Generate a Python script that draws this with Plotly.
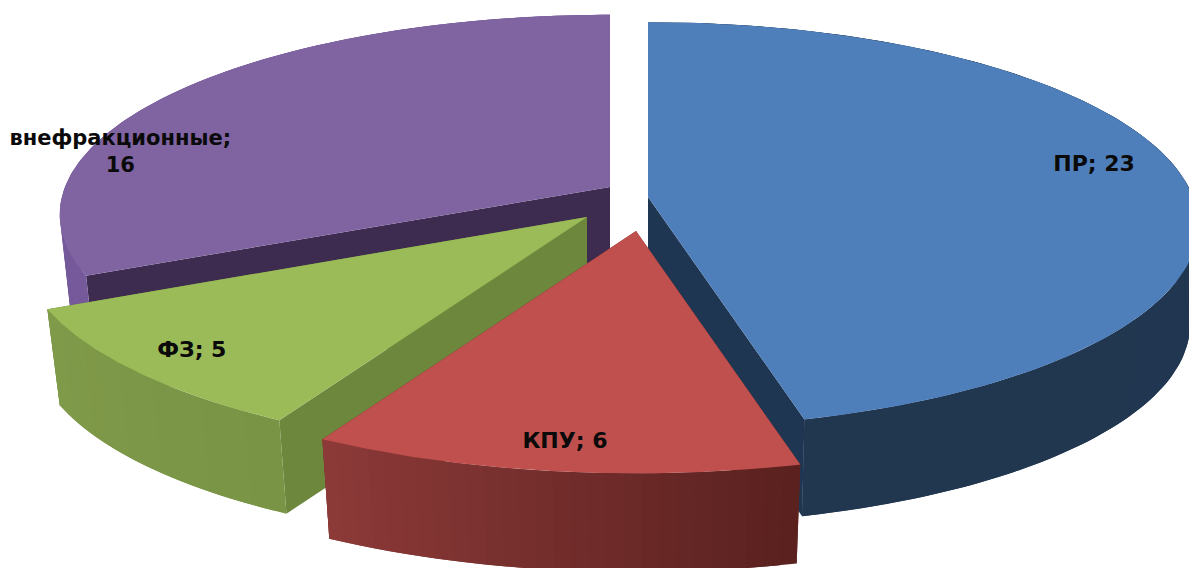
import numpy as np
import plotly.graph_objects as go

# ---- data ----
categories = ["ПР", "КПУ", "ФЗ", "внефракционные"]
values = [23, 6, 5, 16]
label_texts = ["ПР; 23", "КПУ; 6", "ФЗ; 5", "внефракционные;<br>16"]

# ---- view / styling (one entry per slice) ----
WIDTH, HEIGHT = 1189, 568
RX, RY, PERSP = 545.0, 199.0, 0.138
apex_x = [648, 636, 587, 610]
apex_y = [197, 231, 217, 187]
scale_x = [1.0, 1.05, 1.03, 1.0]
scale_y = [1.0, 1.05, 1.025, 0.985]
low_scale = [0.985, 0.978, 0.977, 0.98]
depth = [100, 104, 98, 97]
top_color = ["#4f7fbb", "#bf504d", "#9bbb59", "#8064a2"]
cut_color = ["#1f3652", "#6a2624", "#6d873d", "#3d2c50"]
side_from = ["#203551", "#5a211f", "#7a9446", "#75599a"]
side_to = ["#21364f", "#8c3a38", "#7f9a49", "#75599a"]
label_theta = [78.9, 187.0, 226.8, 280.8]
label_r = [0.853, 0.894, 0.885, 0.937]
label_size = [22, 22, 22, 21]
draw_order = [3, 2, 0, 1]
N_BANDS = 28


def project(i, r, theta, low=False):
    t = np.radians(theta)
    u, v = r * np.sin(t), r * np.cos(t)
    s = 1 / (1 + PERSP * v)
    k = low_scale[i] if low else 1.0
    d = depth[i] if low else 0.0
    x = apex_x[i] + k * RX * scale_x[i] * u * s
    y = apex_y[i] + d - k * RY * scale_y[i] * v * s
    return x, y


def hex_rgb(h):
    return np.array([int(h[j:j + 2], 16) for j in (1, 3, 5)], float)


def mix(a, b, f):
    c = hex_rgb(a) * (1 - f) + hex_rgb(b) * f
    return "rgb(%d,%d,%d)" % tuple(c.round())


def poly(xs, ys, color):
    return go.Scatter(x=np.asarray(xs), y=np.asarray(ys), mode="lines", fill="toself",
                      fillcolor=color, line=dict(color=color, width=0),
                      hoverinfo="skip", showlegend=False)


edges = np.concatenate([[0], np.cumsum(values)]) / np.sum(values) * 360.0
fig = go.Figure()

for i in draw_order:
    a0, a1 = edges[i], edges[i + 1]

    # flat cut faces (hidden parts are overdrawn by the nearer slices)
    for a in (a0, a1):
        x0, y0 = project(i, 1, a)
        x1, y1 = project(i, 1, a, low=True)
        cx0, cy0 = project(i, 0, a)
        cx1, cy1 = project(i, 0, a, low=True)
        fig.add_trace(poly([cx0, x0, x1, cx1], [cy0, y0, y1, cy1], cut_color[i]))

    # curved outer wall, painted in overlapping bands for the shading
    bands = np.linspace(a0, a1, N_BANDS + 1)
    step = bands[1] - bands[0]
    for b in range(N_BANDS):
        th = np.linspace(bands[b], min(bands[b + 1] + step, a1), 8)
        x_up, y_up = project(i, 1, th)
        x_lo, y_lo = project(i, 1, th, low=True)
        color = mix(side_from[i], side_to[i], b / (N_BANDS - 1))
        fig.add_trace(poly(np.r_[x_up, x_lo[::-1]], np.r_[y_up, y_lo[::-1]], color))

    # top surface
    th = np.linspace(a0, a1, 160)
    x_t, y_t = project(i, 1, th)
    cx, cy = project(i, 0, a0)
    fig.add_trace(poly(np.r_[cx, x_t, cx], np.r_[cy, y_t, cy], top_color[i]))

# data labels
lx, ly = zip(*[project(i, label_r[i], label_theta[i]) for i in range(len(values))])
fig.add_trace(go.Scatter(
    x=list(lx), y=list(ly), mode="text", text=label_texts, textposition="middle center",
    textfont=dict(family="DejaVu Sans", size=label_size, color="#0a0a0a", weight="bold"),
    hoverinfo="skip", showlegend=False,
))

fig.update_layout(
    width=WIDTH, height=HEIGHT, margin=dict(l=0, r=0, t=0, b=0),
    paper_bgcolor="white", plot_bgcolor="white",
    xaxis=dict(range=[0, WIDTH], visible=False, fixedrange=True),
    yaxis=dict(range=[HEIGHT, 0], visible=False, fixedrange=True),
)
fig.write_html("out.html", config={"displayModeBar": False},
               post_script="document.body.style.margin='0';")
